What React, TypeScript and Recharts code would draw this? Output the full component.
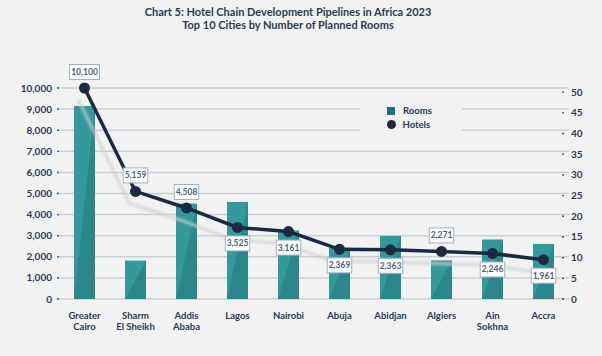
import React from "react";
import {
  ComposedChart,
  Bar,
  Line,
  XAxis,
  YAxis,
  CartesianGrid,
  Legend,
  LabelList,
} from "recharts";

const cities = [
  "Greater Cairo",
  "Sharm El Sheikh",
  "Addis Ababa",
  "Lagos",
  "Nairobi",
  "Abuja",
  "Abidjan",
  "Algiers",
  "Ain Sokhna",
  "Accra",
];
const rooms = [9150, 1820, 4520, 4600, 3250, 2420, 2990, 1830, 2820, 2610];
const hotels = [51, 26, 22, 17.3, 16.3, 12, 11.9, 11.5, 11, 9.5];
const roomLabels = [
  "10,100",
  "5,159",
  "4,508",
  "3,525",
  "3.161",
  "2,369",
  "2,363",
  "2,271",
  "2,246",
  "1,961",
];
const roomTicks = [0, 1000, 2000, 3000, 4000, 5000, 6000, 7000, 8000, 9000, 10000];
const hotelTicks = [0, 5, 10, 15, 20, 25, 30, 35, 40, 45, 50];

const data = cities.map((city, i) => ({
  city,
  rooms: rooms[i],
  hotels: hotels[i],
  label: roomLabels[i],
}));

const FONT = "Lato, 'Open Sans', sans-serif";
const NAVY = "#1b2a41";
const TEXT = "#2b3a56";
const LABEL_ABOVE = [0, 1, 2, 7];

const CityTick = (props: any) => {
  const { x, y, payload } = props;
  const name: string = payload.value;
  const sp = name.indexOf(" ");
  const lines = sp < 0 ? [name] : [name.slice(0, sp), name.slice(sp + 1)];
  return (
    <text x={x} y={y} textAnchor="middle" fontSize={9.5} fontWeight={700} fill={TEXT} fontFamily={FONT}>
      {lines.map((l, i) => (
        <tspan key={i} x={x} dy={i === 0 ? 20 : 10.5}>
          {l}
        </tspan>
      ))}
    </text>
  );
};

const LeftTick = (props: any) => {
  const { x, y, payload } = props;
  return (
    <g>
      <circle cx={x - 1} cy={y} r={0.9} fill={TEXT} />
      <text x={x - 7} y={y} dy={3.5} textAnchor="end" fontSize={10} fontWeight={700} fill={TEXT} fontFamily={FONT}>
        {payload.value.toLocaleString("en-US")}
      </text>
    </g>
  );
};

const RightTick = (props: any) => {
  const { x, y, payload } = props;
  return (
    <g>
      <circle cx={x - 6} cy={y} r={0.9} fill={TEXT} />
      <text x={x + 2} y={y} dy={3.5} textAnchor="start" fontSize={10} fontWeight={700} fill={TEXT} fontFamily={FONT}>
        {payload.value}
      </text>
    </g>
  );
};

// bar with a darker triangle on its lower right, split along the diagonal
const SplitBar = (props: any) => {
  const { x, y, width, height } = props;
  if (!height || height <= 0) return null;
  return (
    <g>
      <rect x={x} y={y} width={width} height={height} fill="#33999b" />
      <polygon
        points={`${x},${y + height} ${x + width},${y + height} ${x + width},${y}`}
        fill="#2b878a"
      />
    </g>
  );
};

const PointLabel = (props: any) => {
  const { x, y, value, index } = props;
  const above = LABEL_ABOVE.includes(index);
  const text = String(value);
  const w = text.length * 5.5 - 3;
  const h = 15;
  const cy = above ? y - 16 : y + 16;
  return (
    <g>
      <rect x={x - w / 2} y={cy - h / 2} width={w} height={h} fill="#ffffff" stroke="#9fb2ca" strokeWidth={1} />
      <text x={x} y={cy} dy={3} textAnchor="middle" fontSize={8.5} fontWeight={700} fill="#4d607d" fontFamily={FONT}>
        {text}
      </text>
    </g>
  );
};

const LegendBox = (props: any) => {
  const items = (props.payload || [])
    .filter((p: any) => p.type !== "none")
    .sort((a: any, b: any) => (a.value === "Rooms" ? -1 : b.value === "Rooms" ? 1 : 0));
  return (
    <div style={{ background: "#f2f2f2", width: 102, height: 38, position: "relative" }}>
      {items.map((p: any, i: number) => (
        <div
          key={p.value}
          style={{
            position: "absolute",
            left: 27,
            top: 5 + i * 14,
            display: "flex",
            alignItems: "center",
            fontFamily: FONT,
            fontSize: 9.5,
            fontWeight: 700,
            color: TEXT,
          }}
        >
          {p.value === "Rooms" ? (
            <span style={{ width: 8, height: 8, background: "#1f6e8c", display: "inline-block", marginRight: 8 }} />
          ) : (
            <span
              style={{ width: 9, height: 9, borderRadius: 5, background: NAVY, display: "inline-block", marginRight: 7, marginLeft: -0.5 }}
            />
          )}
          {p.value}
        </div>
      ))}
    </div>
  );
};

export default function App() {
  return (
    <div
      style={{
        position: "absolute",
        left: 0,
        top: 0,
        width: 602,
        height: 356,
        background: "#f2f2f2",
        overflow: "hidden",
      }}
    >
      <div
        style={{
          position: "absolute",
          left: 0,
          top: 5,
          width: 576,
          textAlign: "center",
          fontFamily: FONT,
          fontWeight: 700,
          fontSize: 11,
          lineHeight: "13px",
          color: "#2d3b55",
        }}
      >
        <div>Chart 5: Hotel Chain Development Pipelines in Africa 2023</div>
        <div>Top 10 Cities by Number of Planned Rooms</div>
      </div>
      <ComposedChart
        width={602}
        height={356}
        data={data}
        margin={{ top: 88, right: 0, bottom: 27, left: 0 }}
        style={{ position: "absolute", left: 0, top: 0 }}
      >
        <defs>
          <filter id="lineShadow" filterUnits="userSpaceOnUse" x="0" y="0" width="602" height="356">
            <feOffset dx={-6} dy={12} />
            <feGaussianBlur stdDeviation={1.2} />
          </filter>
        </defs>
        <CartesianGrid yAxisId="left" vertical={false} stroke="#c9cfd6" strokeWidth={1.5} />
        <XAxis
          dataKey="city"
          axisLine={false}
          tickLine={false}
          tickSize={0}
          tickMargin={0}
          interval={0}
          height={30}
          tick={<CityTick />}
        />
        <YAxis
          yAxisId="left"
          domain={[0, 10000]}
          ticks={roomTicks}
          interval={0}
          axisLine={false}
          tickLine={false}
          tickSize={0}
          tickMargin={0}
          width={59}
          tick={<LeftTick />}
        />
        <YAxis
          yAxisId="right"
          orientation="right"
          domain={[0, 50]}
          ticks={hotelTicks}
          interval={0}
          axisLine={false}
          tickLine={false}
          tickSize={0}
          tickMargin={0}
          width={33}
          tick={<RightTick />}
        />
        <Legend
          layout="horizontal"
          verticalAlign="middle"
          align="center"
          content={<LegendBox />}
          wrapperStyle={{ position: "absolute", left: 360, top: 100, width: 102, height: 38 }}
        />
        <Bar
          yAxisId="left"
          dataKey="rooms"
          name="Rooms"
          barSize={21}
          fill="#33999b"
          shape={<SplitBar />}
          legendType="square"
          isAnimationActive={false}
        />
        <Line
          yAxisId="right"
          dataKey="hotels"
          name="shadow"
          legendType="none"
          stroke="#cfcfcf"
          strokeOpacity={0.65}
          strokeWidth={3.5}
          dot={false}
          activeDot={false}
          filter="url(#lineShadow)"
          isAnimationActive={false}
        />
        <Line
          yAxisId="right"
          dataKey="hotels"
          name="Hotels"
          legendType="circle"
          stroke={NAVY}
          strokeWidth={3.5}
          dot={{ r: 5.5, fill: NAVY, stroke: NAVY, strokeWidth: 0 }}
          isAnimationActive={false}
        >
          <LabelList dataKey="label" content={<PointLabel />} />
        </Line>
      </ComposedChart>
    </div>
  );
}
